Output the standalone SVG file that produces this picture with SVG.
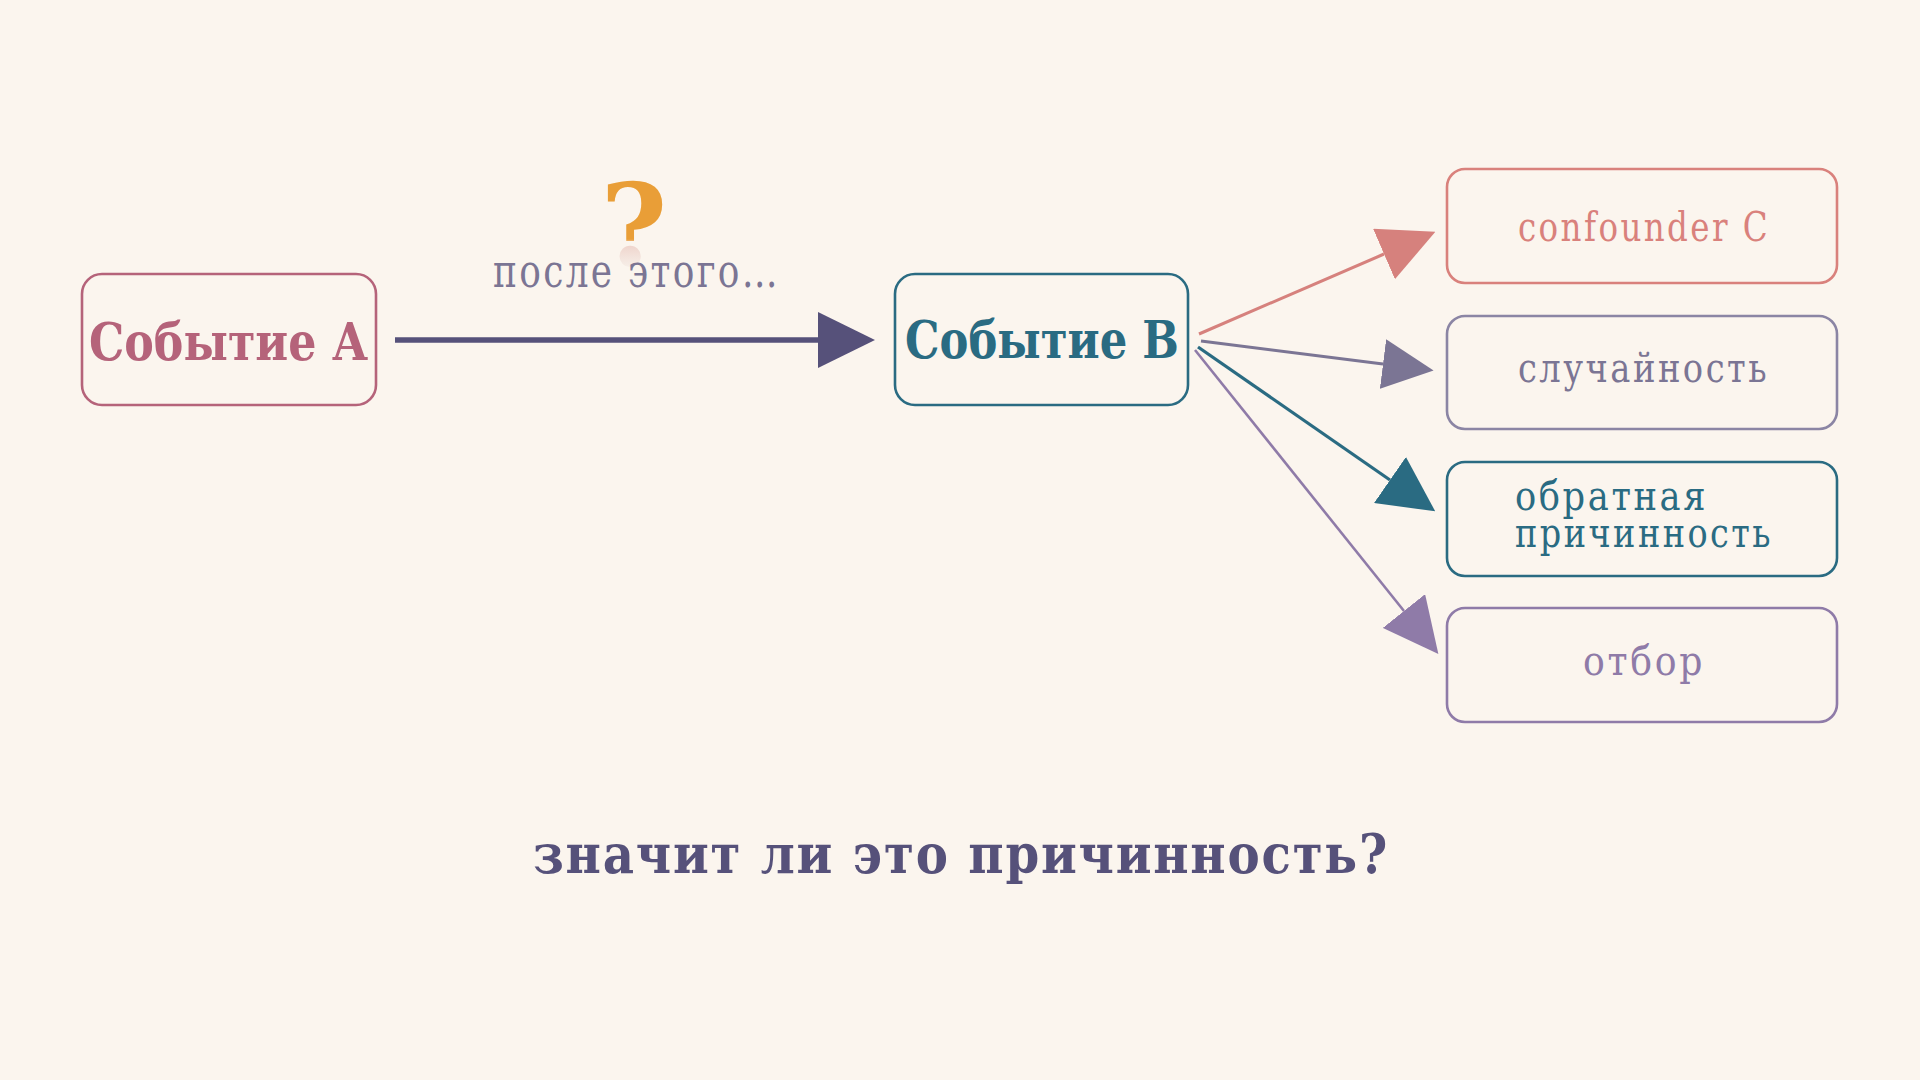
<svg xmlns="http://www.w3.org/2000/svg" width="1920" height="1080" viewBox="0 0 1920 1080">
<style>
.t{font-family:"DejaVu Serif",serif}
.b{font-weight:bold}
.r{letter-spacing:3px}
.box{fill:#FBF5EE;stroke-width:2.6}
</style>
<defs>
<linearGradient id="qg" gradientUnits="userSpaceOnUse" x1="0" y1="178" x2="0" y2="268">
<stop offset="0" stop-color="#E99E37"/>
<stop offset="0.68" stop-color="#E99E37"/>
<stop offset="0.73" stop-color="#EBC9C0" stop-opacity="0.8"/>
<stop offset="1" stop-color="#F3EAE4" stop-opacity="0.6"/>
</linearGradient>
<marker id="mMain" markerUnits="userSpaceOnUse" markerWidth="57" markerHeight="56" viewBox="0 0 57 56" refX="0" refY="28" orient="auto"><path d="M0,0 L57,28 L0,56 z" fill="#56517A"/></marker>
<marker id="mRed" markerUnits="userSpaceOnUse" markerWidth="56" markerHeight="55" viewBox="0 0 56 55" refX="0" refY="27.5" orient="auto"><path d="M0,0 L56,27.5 L0,55 z" fill="#D6817D"/></marker>
<marker id="mGrey" markerUnits="userSpaceOnUse" markerWidth="51" markerHeight="50" viewBox="0 0 51 50" refX="0" refY="25" orient="auto"><path d="M0,0 L51,25 L0,50 z" fill="#7B7594"/></marker>
<marker id="mTeal" markerUnits="userSpaceOnUse" markerWidth="55" markerHeight="56" viewBox="0 0 55 56" refX="0" refY="28" orient="auto"><path d="M0,0 L55,28 L0,56 z" fill="#2A6B82"/></marker>
<marker id="mPurp" markerUnits="userSpaceOnUse" markerWidth="55" markerHeight="54" viewBox="0 0 55 54" refX="0" refY="27" orient="auto"><path d="M0,0 L55,27 L0,54 z" fill="#8F7BA8"/></marker>
</defs>
<rect width="1920" height="1080" fill="#FBF5EE"/>

<g id="connectors" fill="none">
<path d="M395,340 L818,340" stroke="#56517A" stroke-width="5.5" marker-end="url(#mMain)"/>
<path d="M1199,334 L1384,254" stroke="#D6817D" stroke-width="3" marker-end="url(#mRed)"/>
<path d="M1201,341 L1383,364" stroke="#7B7594" stroke-width="3" marker-end="url(#mGrey)"/>
<path d="M1198,347 L1390,480" stroke="#2A6B82" stroke-width="3.2" marker-end="url(#mTeal)"/>
<path d="M1195,350 L1404,611" stroke="#8F7BA8" stroke-width="2.6" marker-end="url(#mPurp)"/>
</g>

<g id="label-question">
<text class="t b" x="634" y="265" font-size="114" text-anchor="middle" fill="url(#qg)">?</text>
<text class="t r" x="493" y="287" font-size="47" fill="#7B7594" textLength="287" lengthAdjust="spacingAndGlyphs">после этого…</text>
</g>

<g id="node-a">
<rect class="box" x="82" y="274" width="294" height="131" rx="20" stroke="#B5637A"/>
<text class="t b" x="89" y="360" font-size="53" fill="#B5637A" textLength="279" lengthAdjust="spacingAndGlyphs">Событие А</text>
</g>

<g id="node-b">
<rect class="box" x="895" y="274" width="293" height="131" rx="20" stroke="#2A6B82"/>
<text class="t b" x="905" y="358" font-size="53" fill="#2A6B82" textLength="274" lengthAdjust="spacingAndGlyphs">Событие В</text>
</g>

<g id="node-confounder">
<rect class="box" x="1447" y="169" width="390" height="114" rx="18" stroke="#D9817C"/>
<text class="t r" x="1518" y="241" font-size="41" fill="#D9817C" textLength="252" lengthAdjust="spacingAndGlyphs">confounder C</text>
</g>

<g id="node-chance">
<rect class="box" x="1447" y="316" width="390" height="113" rx="18" stroke="#8B85A4"/>
<text class="t r" x="1518" y="382" font-size="41" fill="#7B7594" textLength="251" lengthAdjust="spacingAndGlyphs">случайность</text>
</g>

<g id="node-reverse">
<rect class="box" x="1447" y="462" width="390" height="114" rx="18" stroke="#2A6B82"/>
<text class="t r" x="1515" y="510" font-size="41" fill="#2A6B82" textLength="193" lengthAdjust="spacingAndGlyphs">обратная</text>
<text class="t r" x="1515" y="547" font-size="41" fill="#2A6B82" textLength="258" lengthAdjust="spacingAndGlyphs">причинность</text>
</g>

<g id="node-selection">
<rect class="box" x="1447" y="608" width="390" height="114" rx="18" stroke="#8F7BA8"/>
<text class="t r" x="1583" y="675" font-size="41" fill="#8F7BA8" textLength="122" lengthAdjust="spacingAndGlyphs">отбор</text>
</g>

<g id="caption">
<text class="t b" x="533" y="873" font-size="55" fill="#56517A" textLength="856" lengthAdjust="spacingAndGlyphs" letter-spacing="2">значит ли это причинность?</text>
</g>
</svg>
